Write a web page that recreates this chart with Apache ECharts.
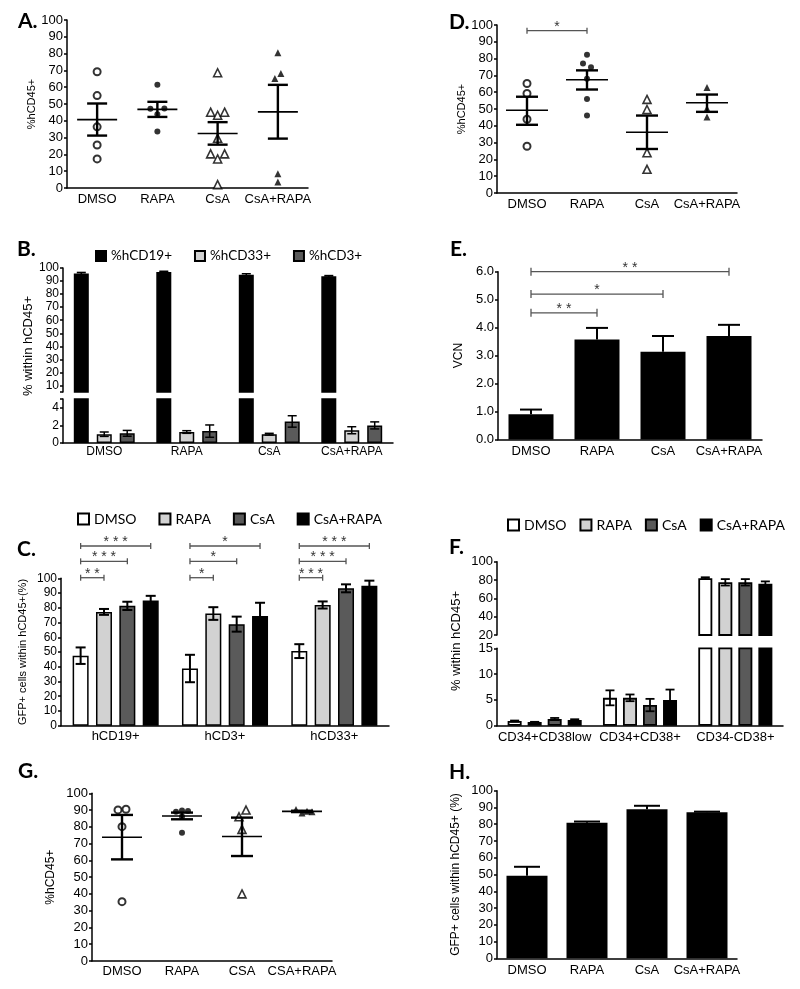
<!DOCTYPE html>
<html><head><meta charset="utf-8">
<script src="https://cdn.jsdelivr.net/npm/echarts@6/dist/echarts.min.js"></script>
<style>html,body{margin:0;padding:0;background:#fff}#c{width:800px;height:989px}</style>
</head><body><div id="c"></div>
<script>
// ---------- DATA ----------
// Panel A (scatter, mean ± SEM)
const catsA = ['DMSO', 'RAPA', 'CsA', 'CsA+RAPA'];
const aDMSO = [69.2, 55, 36.4, 25.6, 17.3];
const aRAPA = [61.4, 47.1, 47.3, 43.9, 33.6];
const aCsA = [68.6, 45.1, 43.3, 45.1, 29.6, 20.3, 17.3, 20.3, 2];
const aCsARAPA = [80.5, 65.2, 68.2, 8.5, 3.6];
const aMean = [40.7, 46.8, 32.4, 45.3];
const aSemLo = [31.2, 42.3, 25.8, 29.4];
const aSemHi = [50.3, 51.3, 39.2, 61.4];
// Panel D
const catsD = ['DMSO', 'RAPA', 'CsA', 'CsA+RAPA'];
const dDMSO = [65.2, 59.2, 43.9, 27.8];
const dRAPA = [82.3, 77.1, 74.8, 68, 55.9, 46.1];
const dCsA = [55.7, 49.7, 24, 14.1];
const dCsARAPA = [62.8, 50.3, 45.3];
const dMean = [49.3, 67.4, 36.2, 53.7];
const dSemLo = [40.6, 61.6, 26.2, 48.3];
const dSemHi = [57.3, 73, 46.1, 58.6];
const dSig = [[0, 0, 1, 0, 96.6, '*']];
// Panel B (broken axis bars)
const catsB = ['DMSO', 'RAPA', 'CsA', 'CsA+RAPA'];
const bCD19 = [95.8, 97.0, 94.8, 93.6];
const bCD19Err = [0.8, 0.5, 0.8, 0.6];
const bCD33 = [1.0, 1.25, 1.0, 1.45];
const bCD33Err = [0.25, 0.15, 0.1, 0.4];
const bCD3 = [1.1, 1.35, 2.45, 2.0];
const bCD3Err = [0.33, 0.7, 0.65, 0.4];
const bTopTicks = [5, 10, 20, 30, 40, 50, 60, 70, 80, 90, 100];
const bTopLabels = [10, 20, 30, 40, 50, 60, 70, 80, 90, 100];
const bBotTicks = [0, 2, 4, 5];
const bBotLabels = [0, 2, 4];
// Panel E (VCN)
const catsE = ['DMSO', 'RAPA', 'CsA', 'CsA+RAPA'];
const eVCN = [0.9, 3.58, 3.14, 3.7];
const eErr = [0.17, 0.41, 0.56, 0.4];
const eSig = [[0, 0, 1, 0, 4.53, '**'], [0, 0, 2, 0, 5.2, '*'], [0, 0, 3, 0, 6.0, '**']];
// Panel C (GFP+)
const catsC = ['hCD19+', 'hCD3+', 'hCD33+'];
const cDMSO = [47.5, 38.8, 50.6];
const cDMSOErr = [5.6, 9.3, 4.7];
const cRAPA = [77.2, 76.1, 81.9];
const cRAPAErr = [2.0, 4.3, 2.4];
const cCsA = [81.3, 68.9, 93.2];
const cCsAErr = [2.8, 5.1, 2.7];
const cCsARAPA = [84.9, 74.4, 94.9];
const cCsARAPAErr = [3.2, 9.0, 3.5];
const cSig = [
  [0, 0, 0, 1, 100.4, '**'], [0, 0, 0, 2, 111.5, '***'], [0, 0, 0, 3, 121.9, '***'],
  [1, 0, 1, 1, 100.4, '*'], [1, 0, 1, 2, 111.5, '*'], [1, 0, 1, 3, 121.9, '*'],
  [2, 0, 2, 1, 100.4, '***'], [2, 0, 2, 2, 111.5, '***'], [2, 0, 2, 3, 121.9, '***']
];
// Panel F (broken axis bars)
const catsF = ['CD34+CD38low', 'CD34+CD38+', 'CD34-CD38+'];
const fDMSO = [0.9, 5.4, 82];
const fDMSOErr = [0.1, 1.45, 1.0];
const fRAPA = [0.7, 5.4, 77.5];
const fRAPAErr = [0.05, 0.65, 3.5];
const fCsA = [1.3, 4.0, 77.5];
const fCsAErr = [0.2, 1.2, 3.5];
const fCsARAPA = [1.1, 5.0, 76];
const fCsARAPAErr = [0.15, 2.0, 2.5];
// Panel G (scatter)
const catsG = ['DMSO', 'RAPA', 'CSA', 'CSA+RAPA'];
const gDMSO = [90.1, 90.5, 80.1, 35.4];
const gRAPA = [89.0, 89.7, 89.5, 86.1, 76.5];
const gCSA = [86, 90, 78.5, 40];
const gCSARAPA = [90.3, 88.2, 89.3, 89.0];
const gMean = [73.8, 86.5, 74.2, 89.2];
const gSemLo = [60.6, 84.5, 62.6, 88.8];
const gSemHi = [87.1, 88.5, 85.5, 89.6];
// Panel H
const catsH = ['DMSO', 'RAPA', 'CsA', 'CsA+RAPA'];
const hVals = [49.2, 80.9, 89.0, 87.1];
const hErr = [5.4, 0.7, 2.0, 0.4];

// ---------- STYLE (horizontal jitter of overlapping points, px) ----------
const jitA = [[0, 0, 0, 0, 0], [0, -7, 7, 0, 0], [0, -7, 0, 7, 0, -7, 0, 7, 0], [0, -3, 3, 0, 0]];
const jitD = [[0, 0, 0, 0], [0, -4, 4, 0, 0, 0], [0, 0, 0, 0], [0, 0, 0]];
const jitG = [[-4, 4, 0, 0], [-6, 0, 6, 0, 0], [-3, 4, 0, 0], [-6, 0, 5, 10]];

const FONT = '"Liberation Sans", Arial, Helvetica, sans-serif';
const LFONT = 'Lato, "Open Sans", sans-serif';
const LIGHT = '#d2d2d2', DARK = '#5a5a5a';

function merge(base, extra) {
  if (!extra) return base;
  Object.keys(extra).forEach(k => {
    const v = extra[k];
    if (v && typeof v === 'object' && !Array.isArray(v) && base[k] && typeof base[k] === 'object' && !Array.isArray(base[k])) {
      base[k] = merge(Object.assign({}, base[k]), v);
    } else base[k] = v;
  });
  return base;
}
function xAx(gi, cats, extra) {
  return merge({
    type: 'category', gridIndex: gi, data: cats, boundaryGap: true,
    axisLine: { show: true, onZero: false, lineStyle: { color: '#000', width: 1.5 } },
    axisTick: { show: false },
    axisLabel: { color: '#000', fontFamily: FONT, fontSize: 13, margin: 5, interval: 0 },
    splitLine: { show: false }
  }, extra);
}
function yAx(gi, min, max, interval, extra) {
  return merge({
    type: 'value', gridIndex: gi, min: min, max: max, interval: interval,
    axisLine: { show: true, onZero: false, lineStyle: { color: '#000', width: 1.5 } },
    axisTick: { show: true, inside: false, length: 3, lineStyle: { color: '#000', width: 1.5 } },
    axisLabel: { color: '#000', fontFamily: FONT, fontSize: 13, margin: 4 },
    splitLine: { show: false },
    nameLocation: 'middle',
    nameTextStyle: { color: '#000', fontFamily: FONT, fontSize: 12 }
  }, extra);
}
const L = (x1, y1, x2, y2, w, c) => ({ type: 'line', shape: { x1, y1, x2, y2 }, style: { stroke: c || '#000', lineWidth: w } });

function dots(ai, cat, vals, jit, kind) {
  const st = {
    oc: { symbol: 'circle', symbolSize: 7, itemStyle: { color: '#fff', borderColor: '#000', borderWidth: 2 } },
    fc: { symbol: 'circle', symbolSize: 6, itemStyle: { color: '#000' } },
    ot: { symbol: 'triangle', symbolSize: 8, itemStyle: { color: '#fff', borderColor: '#000', borderWidth: 1.6 } },
    ft: { symbol: 'triangle', symbolSize: 7, itemStyle: { color: '#000' } }
  }[kind];
  return Object.assign({
    type: 'scatter', name: 'p' + ai + '_' + cat, xAxisIndex: ai, yAxisIndex: ai, silent: true, z: 3,
    data: vals.map((v, k) => ({ value: [cat, v], symbolOffset: [(jit && jit[k]) || 0, 0] }))
  }, st);
}
function meanSem(ai, mean, lo, hi, mh, ch) {
  return {
    type: 'custom', xAxisIndex: ai, yAxisIndex: ai, z: 6, silent: true,
    data: mean.map((m, i) => [i, m, lo[i], hi[i]]),
    renderItem(params, api) {
      const i = api.value(0);
      const pm = api.coord([i, api.value(1)]), pl = api.coord([i, api.value(2)]), ph = api.coord([i, api.value(3)]);
      const x = pm[0];
      return {
        type: 'group', children: [
          L(x - mh, pm[1], x + mh, pm[1], 1.6),
          L(x, pl[1], x, ph[1], 2.4),
          L(x - ch, pl[1], x + ch, pl[1], 2.4),
          L(x - ch, ph[1], x + ch, ph[1], 2.4)
        ]
      };
    }
  };
}
function errBars(ai, vals, errs, off, capH, lw, up, range) {
  return {
    type: 'custom', xAxisIndex: ai, yAxisIndex: ai, z: 5, silent: true,
    data: vals.map((v, i) => [i, v, errs[i]]),
    renderItem(params, api) {
      const i = api.value(0), v = api.value(1), e = api.value(2);
      const lo = up ? v : v - e, hi = v + e;
      if (hi < range[0] || lo > range[1]) return;
      const a = api.coord([i, Math.max(lo, range[0])]), b = api.coord([i, Math.min(hi, range[1])]);
      const x = a[0] + off;
      const ch = [L(x, a[1], x, b[1], lw)];
      if (hi <= range[1]) ch.push(L(x - capH, b[1], x + capH, b[1], lw));
      if (!up && lo >= range[0]) ch.push(L(x - capH, a[1], x + capH, a[1], lw));
      return { type: 'group', children: ch };
    }
  };
}
function sig(ai, list, offs, tickH) {
  return {
    type: 'custom', xAxisIndex: ai, yAxisIndex: ai, z: 6, silent: true,
    data: list.map(b => [b[0], b[4]]),
    renderItem(params, api) {
      const b = list[params.dataIndex];
      const pa = api.coord([b[0], b[4]]), pb = api.coord([b[2], b[4]]);
      const x1 = pa[0] + offs[b[1]], x2 = pb[0] + offs[b[3]], y = pa[1];
      const col = '#555';
      return {
        type: 'group', children: [
          L(x1, y, x2, y, 1.3, col), L(x1, y - tickH, x1, y + tickH, 1.3, col), L(x2, y - tickH, x2, y + tickH, 1.3, col),
          { type: 'text', x: (x1 + x2) / 2, y: y + 3, style: { text: b[5].split('').join(' '), fill: '#333', font: '14px ' + FONT, textAlign: 'center', textVerticalAlign: 'bottom', align: 'center', verticalAlign: 'bottom' } }
        ]
      };
    }
  };
}
function bars(name, ai, vals, color, width, gap, minV, bw) {
  return {
    type: 'bar', name: name, xAxisIndex: ai, yAxisIndex: ai, barWidth: width, barGap: gap, silent: true, z: 2,
    data: vals.map(v => (v < minV ? '-' : v)),
    itemStyle: { color: color, borderColor: '#000', borderWidth: bw }
  };
}
const offs = (n, w, g) => Array.from({ length: n }, (_, i) => (i - (n - 1) / 2) * w * (1 + g));
const offB = offs(3, 15, 0.53), offC = offs(4, 16, 0.46), offF = offs(4, 14, 0.43);

// grids: 0 A, 1 D, 2 B-top, 3 B-bottom, 4 E, 5 C, 6 F-top, 7 F-bottom, 8 G, 9 H
const grids = [
  { left: 67, top: 20, width: 241, height: 168 },
  { left: 497, top: 25, width: 240, height: 168 },
  { left: 63, top: 268, width: 330, height: 124 },
  { left: 63, top: 399, width: 330, height: 44 },
  { left: 498, top: 271.7, width: 264, height: 167.8 },
  { left: 61, top: 578.3, width: 328, height: 147.4 },
  { left: 497, top: 561.7, width: 286, height: 73.3 },
  { left: 497, top: 648.3, width: 286, height: 77.4 },
  { left: 92, top: 793.3, width: 240, height: 167.7 },
  { left: 497, top: 790.7, width: 240, height: 167.6 }
].map(g => Object.assign({ containLabel: false, outerBoundsMode: 'none' }, g));

const xAxes = [
  xAx(0, catsA, { axisLabel: { margin: 5 } }),
  xAx(1, catsD, { axisLabel: { margin: 5 } }),
  xAx(2, catsB, { show: false }),
  xAx(3, catsB, { axisLabel: { margin: 3, fontSize: 12 } }),
  xAx(4, catsE, { axisLabel: { margin: 5 } }),
  xAx(5, catsC, { axisLabel: { margin: 4 } }),
  xAx(6, catsF, { show: false }),
  xAx(7, catsF, { axisLabel: { margin: 5 } }),
  xAx(8, catsG, { axisLabel: { margin: 4 } }),
  xAx(9, catsH, { axisLabel: { margin: 6 } })
];
const yAxes = [
  yAx(0, 0, 100, 10, { name: '%hCD45+', nameGap: 29, nameTextStyle: { fontSize: 11 } }),
  yAx(1, 0, 100, 10, { name: '%hCD45+', nameGap: 30, nameTextStyle: { fontSize: 11 } }),
  yAx(2, 5, 100, undefined, { axisTick: { customValues: bTopTicks }, axisLabel: { customValues: bTopLabels, fontSize: 12 } }),
  yAx(3, 0, 5, undefined, { axisTick: { customValues: bBotTicks }, axisLabel: { customValues: bBotLabels, fontSize: 12 } }),
  yAx(4, 0, 6, 1, { name: 'VCN', nameGap: 33, nameTextStyle: { fontSize: 12 }, axisLabel: { formatter: v => v.toFixed(1) } }),
  yAx(5, 0, 100, 10, { name: 'GFP+ cells within hCD45+(%)', nameGap: 33, nameTextStyle: { fontSize: 11 }, axisLabel: { fontSize: 12 } }),
  yAx(6, 20, 100, 20),
  yAx(7, 0, 15, 5),
  yAx(8, 0, 100, 10, { name: '%hCD45+', nameGap: 35, nameTextStyle: { fontSize: 12 } }),
  yAx(9, 0, 100, 10, { name: 'GFP+ cells within hCD45+ (%)', nameGap: 35, nameTextStyle: { fontSize: 12 } })
];

const series = [];
// A
series.push(dots(0, 0, aDMSO, jitA[0], 'oc'), dots(0, 1, aRAPA, jitA[1], 'fc'), dots(0, 2, aCsA, jitA[2], 'ot'), dots(0, 3, aCsARAPA, jitA[3], 'ft'));
series.push(meanSem(0, aMean, aSemLo, aSemHi, 20, 10));
// D
series.push(dots(1, 0, dDMSO, jitD[0], 'oc'), dots(1, 1, dRAPA, jitD[1], 'fc'), dots(1, 2, dCsA, jitD[2], 'ot'), dots(1, 3, dCsARAPA, jitD[3], 'ft'));
series.push(meanSem(1, dMean, dSemLo, dSemHi, 21, 11));
series.push(sig(1, dSig, [0], 3));
// B top & bottom
[[2, 5], [3, 0]].forEach(([ai, mn]) => {
  series.push(bars('%hCD19+', ai, bCD19, '#000', 15, '53%', mn, 1.5));
  series.push(bars('%hCD33+', ai, bCD33, LIGHT, 15, '53%', mn, 1.5));
  series.push(bars('%hCD3+', ai, bCD3, DARK, 15, '53%', mn, 1.5));
});
series.push(errBars(2, bCD19, bCD19Err, offB[0], 4.5, 1.5, false, [5, 100]));
series.push(errBars(3, bCD33, bCD33Err, offB[1], 4.5, 1.5, false, [0, 5]));
series.push(errBars(3, bCD3, bCD3Err, offB[2], 4.5, 1.5, false, [0, 5]));
// E
series.push({ type: 'bar', name: 'VCN', xAxisIndex: 4, yAxisIndex: 4, barWidth: 45, data: eVCN, itemStyle: { color: '#000' }, silent: true });
series.push(errBars(4, eVCN, eErr, 0, 11, 2, true, [0, 6]));
series.push(sig(4, eSig, [0], 4));
// C
series.push(bars('DMSO', 5, cDMSO, '#fff', 16, '46%', 0, 1.5));
series.push(bars('RAPA', 5, cRAPA, LIGHT, 16, '46%', 0, 1.5));
series.push(bars('CsA', 5, cCsA, DARK, 16, '46%', 0, 1.5));
series.push(bars('CsA+RAPA', 5, cCsARAPA, '#000', 16, '46%', 0, 1.5));
series.push(errBars(5, cDMSO, cDMSOErr, offC[0], 5, 2, false, [0, 100]));
series.push(errBars(5, cRAPA, cRAPAErr, offC[1], 5, 2, false, [0, 100]));
series.push(errBars(5, cCsA, cCsAErr, offC[2], 5, 2, false, [0, 100]));
series.push(errBars(5, cCsARAPA, cCsARAPAErr, offC[3], 5, 2, false, [0, 100]));
series.push(sig(5, cSig, offC, 3));
// F top & bottom
[[6, 20, [20, 100]], [7, 0, [0, 15]]].forEach(([ai, mn, rg]) => {
  series.push(bars('DMSO', ai, fDMSO, '#fff', 14, '43%', mn, 1.8));
  series.push(bars('RAPA', ai, fRAPA, LIGHT, 14, '43%', mn, 1.8));
  series.push(bars('CsA', ai, fCsA, DARK, 14, '43%', mn, 1.8));
  series.push(bars('CsA+RAPA', ai, fCsARAPA, '#000', 14, '43%', mn, 1.8));
  series.push(errBars(ai, fDMSO, fDMSOErr, offF[0], 4.5, 1.8, false, rg));
  series.push(errBars(ai, fRAPA, fRAPAErr, offF[1], 4.5, 1.8, false, rg));
  series.push(errBars(ai, fCsA, fCsAErr, offF[2], 4.5, 1.8, false, rg));
  series.push(errBars(ai, fCsARAPA, fCsARAPAErr, offF[3], 4.5, 1.8, false, rg));
});
// G
series.push(dots(8, 0, gDMSO, jitG[0], 'oc'), dots(8, 1, gRAPA, jitG[1], 'fc'), dots(8, 2, gCSA, jitG[2], 'ot'), dots(8, 3, gCSARAPA, jitG[3], 'ft'));
series.push(meanSem(8, gMean, gSemLo, gSemHi, 20, 11));
// H
series.push({ type: 'bar', name: 'GFP', xAxisIndex: 9, yAxisIndex: 9, barWidth: 41, data: hVals, itemStyle: { color: '#000' }, silent: true });
series.push(errBars(9, hVals, hErr, 0, 13, 2, true, [0, 100]));

const legendText = { fontFamily: LFONT, color: '#000' };
const legends = [
  { data: ['%hCD19+', '%hCD33+', '%hCD3+'], left: 90, top: 244, width: 320, itemWidth: 10, itemHeight: 10, itemGap: 22, icon: 'rect', selectedMode: false, textStyle: Object.assign({ fontSize: 13.5 }, legendText) },
  { data: ['DMSO', 'RAPA', 'CsA', 'CsA+RAPA'], left: 72, top: 507, width: 340, itemWidth: 11, itemHeight: 11, itemGap: 22, icon: 'rect', selectedMode: false, textStyle: Object.assign({ fontSize: 14 }, legendText) },
  { data: ['DMSO', 'RAPA', 'CsA', 'CsA+RAPA'], left: 502, top: 513, width: 298, itemWidth: 11, itemHeight: 11, itemGap: 13, icon: 'rect', selectedMode: false, textStyle: Object.assign({ fontSize: 14 }, legendText) }
];

const letter = (t, x, y) => ({ type: 'text', x: x, y: y, style: { text: t, font: 'bold 21px ' + LFONT, fill: '#000', textAlign: 'left', textVerticalAlign: 'middle', align: 'left', verticalAlign: 'middle' } });
const vtitle = (t, x, y, fs) => ({ type: 'text', x: x, y: y, rotation: Math.PI / 2, style: { text: t, font: fs + 'px ' + FONT, fill: '#000', textAlign: 'center', textVerticalAlign: 'middle', align: 'center', verticalAlign: 'middle' } });
const graphic = [
  letter('A.', 18, 21), letter('D.', 449, 22), letter('B.', 17, 249), letter('E.', 450, 249),
  letter('C.', 17, 549), letter('F.', 449, 547), letter('G.', 18, 771), letter('H.', 449, 772),
  vtitle('% within hCD45+', 28, 346, 13),
  vtitle('% within hCD45+', 456, 641, 13)
];

const chart = echarts.init(document.getElementById('c'));
chart.setOption({
  animation: false,
  backgroundColor: '#fff',
  grid: grids,
  xAxis: xAxes,
  yAxis: yAxes,
  legend: legends,
  graphic: graphic,
  series: series
});
</script></body></html>
